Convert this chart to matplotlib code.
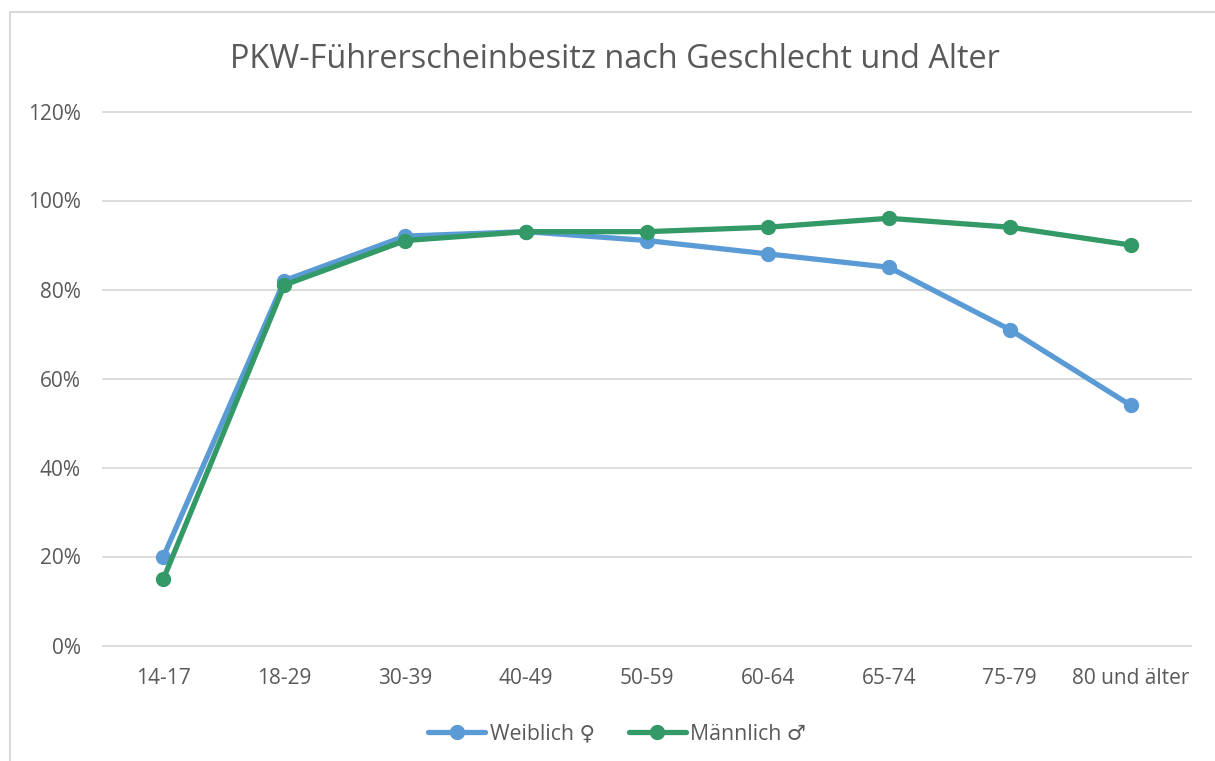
import matplotlib
matplotlib.use("Agg")
import matplotlib.pyplot as plt
from matplotlib.lines import Line2D

plt.rcParams['font.family'] = ['Open Sans', 'DejaVu Sans']

W, H = 1215, 761

age_groups = ["14-17", "18-29", "30-39", "40-49", "50-59", "60-64", "65-74", "75-79", "80 und älter"]
weiblich = [20, 82, 92, 93, 91, 88, 85, 71, 54]
maennlich = [15, 81, 91, 93, 93, 94, 96, 94, 90]
y_ticks = [0, 20, 40, 60, 80, 100, 120]

BLUE = "#5B9BD5"
GREEN = "#339966"
TEXT = "#595959"
GRID = "#D9D9D9"

fig = plt.figure(figsize=(W / 100, H / 100), dpi=100)
ax = fig.add_axes([103 / W, 1 - 645.5 / H, (1191 - 103) / W, (645.5 - 111.5) / H])

x = list(range(len(age_groups)))
ax.plot(x, weiblich, color=BLUE, lw=3.8, marker="o", ms=10, solid_capstyle="round", zorder=3)
ax.plot(x, maennlich, color=GREEN, lw=3.8, marker="o", ms=10, solid_capstyle="round", zorder=4)

ax.set_xlim(-0.5, len(age_groups) - 0.5)
ax.set_ylim(0, 120)
ax.set_xticks(x)
ax.set_xticklabels(age_groups)
ax.set_yticks(y_ticks)
ax.set_yticklabels([f"{v}%" for v in y_ticks])
ax.tick_params(axis="both", length=0, labelsize=15, labelcolor=TEXT)
ax.tick_params(axis="x", pad=16)
ax.tick_params(axis="y", pad=16)
ax.grid(axis="y", color=GRID, lw=1.3, clip_on=False)
ax.set_axisbelow(True)
for side in ax.spines:
    ax.spines[side].set_visible(False)

# title sits in the figure, centred over the plot area
fig.text(615 / W, 1 - 60 / H, "PKW-Führerscheinbesitz nach Geschlecht und Alter",
         fontsize=23.4, color=TEXT, ha="center", va="center")

# chart frame, only left and top are visible in the crop
fig.add_artist(Line2D([10 / W, 10 / W, 1], [0, 1 - 12 / H, 1 - 12 / H], color=GRID, lw=1.5))

# legend
handles = [
    Line2D([], [], color=BLUE, lw=3.8, marker="o", ms=10, solid_capstyle="round"),
    Line2D([], [], color=GREEN, lw=3.8, marker="o", ms=10, solid_capstyle="round"),
]
leg = fig.legend(handles, ["Weiblich ♀", "Männlich ♂"], loc="center",
                 bbox_to_anchor=(617 / W, 1 - 734 / H), ncol=2, frameon=False,
                 fontsize=15.3, labelcolor=TEXT, handlelength=2.7,
                 handletextpad=0.2, columnspacing=1.6)

fig.savefig("out.png", dpi=100)
